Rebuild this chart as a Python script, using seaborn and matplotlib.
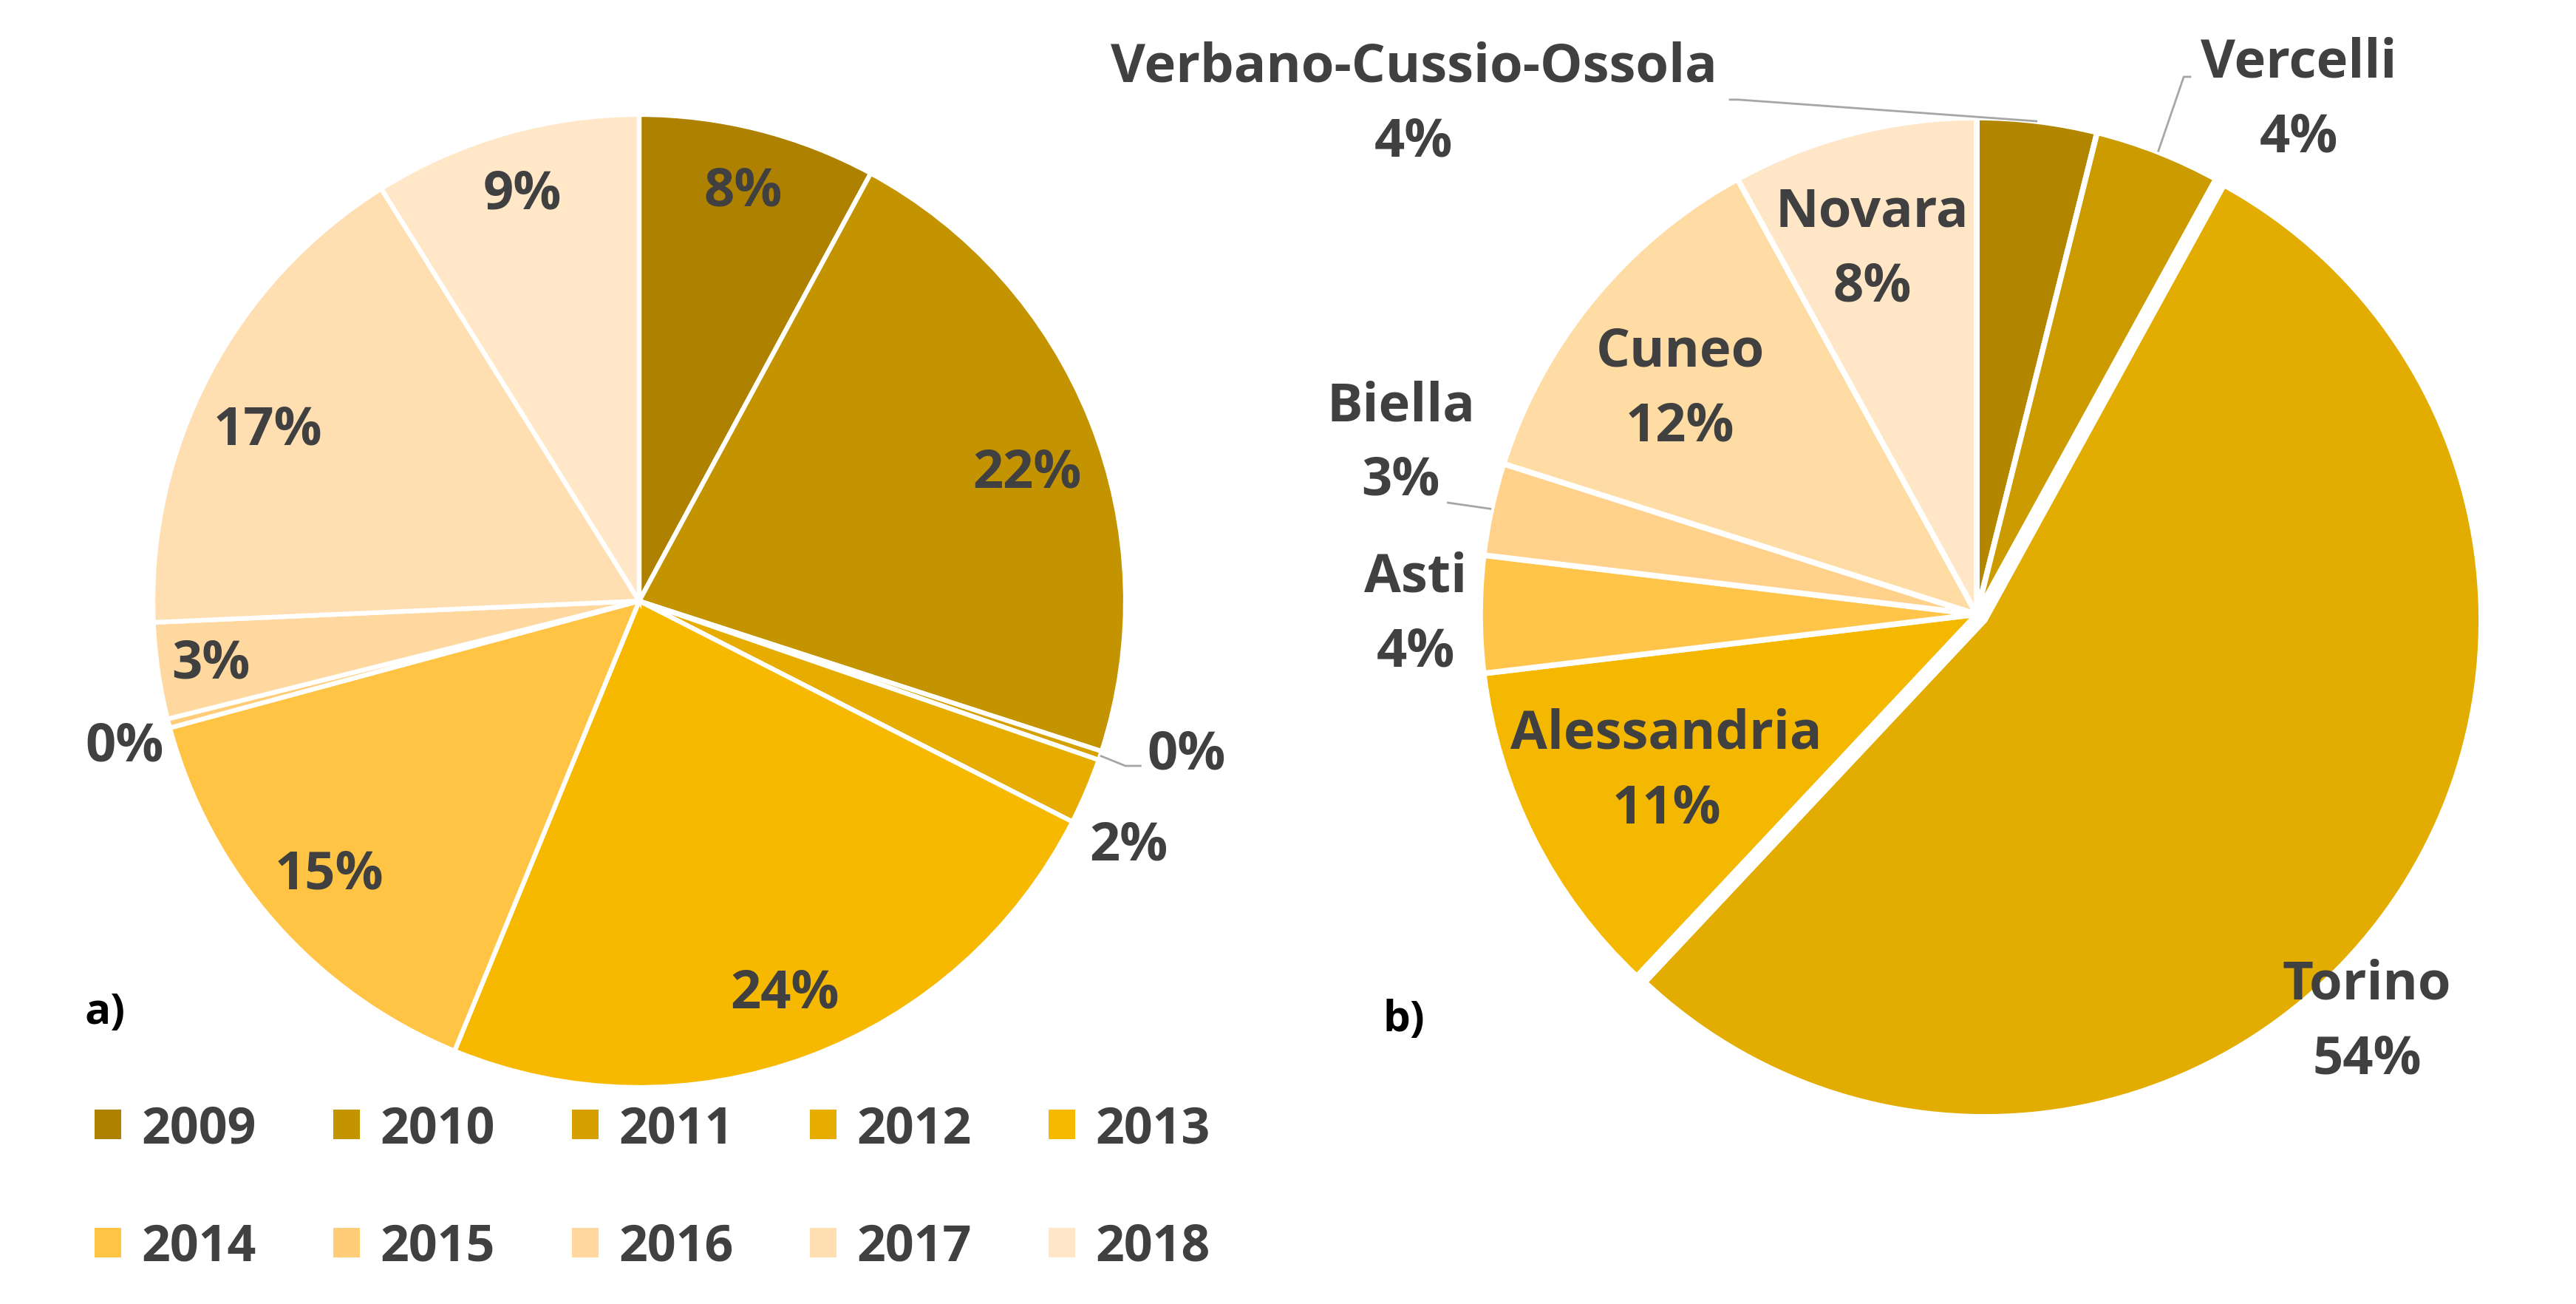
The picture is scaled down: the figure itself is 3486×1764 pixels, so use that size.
import numpy as np
import matplotlib
matplotlib.use("Agg")
import matplotlib.pyplot as plt
from matplotlib.patches import Patch
import seaborn as sns

# data (shares in %)
years = ["2009", "2010", "2011", "2012", "2013", "2014", "2015", "2016", "2017", "2018"]
year_share = [7.9, 22.1, 0.3, 2.2, 23.7, 14.6, 0.3, 3.2, 16.8, 8.9]
year_colors = ["#AE8200", "#C49300", "#D6A100", "#E6AD00", "#F6B900",
               "#FFC443", "#FFCD78", "#FFD89F", "#FFDFB2", "#FFE7C8"]

provinces = ["Verbano-Cussio-Ossola", "Vercelli", "Torino", "Alessandria",
             "Asti", "Biella", "Cuneo", "Novara"]
prov_share = [3.9, 4.1, 54.0, 11.1, 3.8, 3.0, 12.1, 8.0]
prov_colors = ["#B38600", "#CC9B00", "#E2AC00", "#F5B800",
               "#FFC54A", "#FFD18A", "#FFDCA4", "#FFE6C6"]

sns.set_theme(style="white")
plt.rcParams['font.family'] = ['Open Sans', 'DejaVu Sans']
txt_col = "#404040"
lead_col = "#A6A6A6"
fs = 52

W, H = 3487, 1765
fig = plt.figure(figsize=(W / 100, H / 100), dpi=100)


def px_axes(cx, cy, r):
    half = 1.1 * r
    ax = fig.add_axes([(cx - half) / W, (H - cy - half) / H, 2 * half / W, 2 * half / H])
    return ax


def polar(w, dist, dang=0.0):
    a = np.deg2rad((w.theta1 + w.theta2) / 2 + dang)
    return dist * np.cos(a), dist * np.sin(a)


def lead(ax, pts):
    xs, ys = zip(*pts)
    ax.plot(xs, ys, color=lead_col, lw=2, clip_on=False, solid_capstyle='butt')


# ---- a) years
ax1 = px_axes(865, 814, 658)
wedges1, _ = ax1.pie(year_share, colors=year_colors, startangle=90, counterclock=False,
                     wedgeprops=dict(edgecolor="white", linewidth=4.5))
ax1.set_xlim(-1.1, 1.1)
ax1.set_ylim(-1.1, 1.1)

dist1 = [0.87, 0.84, None, 1.125, 0.86, 0.85, 1.10, 0.89, 0.84, 0.87]
dang1 = [0, -3.5, 0, -3.5, 0, 0, 1.2, 0, 3.0, 0]
for i, w in enumerate(wedges1):
    lab = f"{round(year_share[i]):.0f}%"
    if dist1[i] is None:
        # tiny slice with a leader line
        ex, ey = polar(w, 1.0)
        ax1.text(1.045, -0.315, lab, ha="left", va="center", fontsize=fs,
                 fontweight="bold", color=txt_col)
        lead(ax1, [(ex, ey), (1.0, -0.339), (1.033, -0.339)])
        continue
    x, y = polar(w, dist1[i], dang1[i])
    ax1.text(x, y, lab, ha="center", va="center", fontsize=fs, fontweight="bold", color=txt_col)

ax1.text(-1.14, -0.845, "a)", fontsize=42, fontweight="bold", color="black",
         ha="left", va="center")

# ---- b) provinces
ax2 = px_axes(2675, 832, 672)
explode = [0, 0, 0.02, 0, 0, 0, 0, 0]
wedges2, _ = ax2.pie(prov_share, colors=prov_colors, startangle=90, counterclock=False,
                     explode=explode, wedgeprops=dict(edgecolor="white", linewidth=5.5))
ax2.set_xlim(-1.1, 1.1)
ax2.set_ylim(-1.1, 1.1)

dist2 = [None, None, None, 0.70, 1.13, 1.21, 0.75, 0.765]
dang2 = [0, 0, 0, 0, 0, -4.3, 2.2, 1.6]
manual = {0: (-1.134, 1.027), 1: (0.649, 1.036), 2: (0.786, -0.82)}
for i, w in enumerate(wedges2):
    lab = f"{provinces[i]}\n{round(prov_share[i]):.0f}%"
    if i in manual:
        x, y = manual[i]
    else:
        x, y = polar(w, dist2[i], dang2[i])
    ax2.text(x, y, lab, ha="center", va="center", fontsize=fs, fontweight="bold",
             color=txt_col, linespacing=1.52, multialignment="center")

# leader lines
ex, ey = polar(wedges2[0], 1.0)
lead(ax2, [(ex, ey), (-0.48, 1.036), (-0.499, 1.036)])
ex, ey = polar(wedges2[1], 1.0)
lead(ax2, [(ex, ey), (0.417, 1.082), (0.432, 1.082)])
ex, ey = polar(wedges2[5], 1.0)
lead(ax2, [(ex, ey), (-1.067, 0.225)])

ax2.text(-1.195, -0.815, "b)", fontsize=42, fontweight="bold", color="black",
         ha="left", va="center")

# ---- legend for the years (row by row, matplotlib fills column by column)
handles = [Patch(facecolor=c, edgecolor="none", label=y) for y, c in zip(years, year_colors)]
ncol = 5
order = [r * ncol + c for c in range(ncol) for r in range(2)]
fig.legend(handles=[handles[k] for k in order], ncol=ncol, loc="center left",
           bbox_to_anchor=(128 / W, 1 - 1608 / H),
           frameon=False, prop=dict(weight="bold", size=49),
           handlelength=0.53, handleheight=0.53, handletextpad=0.4,
           columnspacing=1.53, labelspacing=1.35, borderpad=0, borderaxespad=0,
           labelcolor=txt_col)

fig.savefig("out.png", dpi=100, facecolor="white")
